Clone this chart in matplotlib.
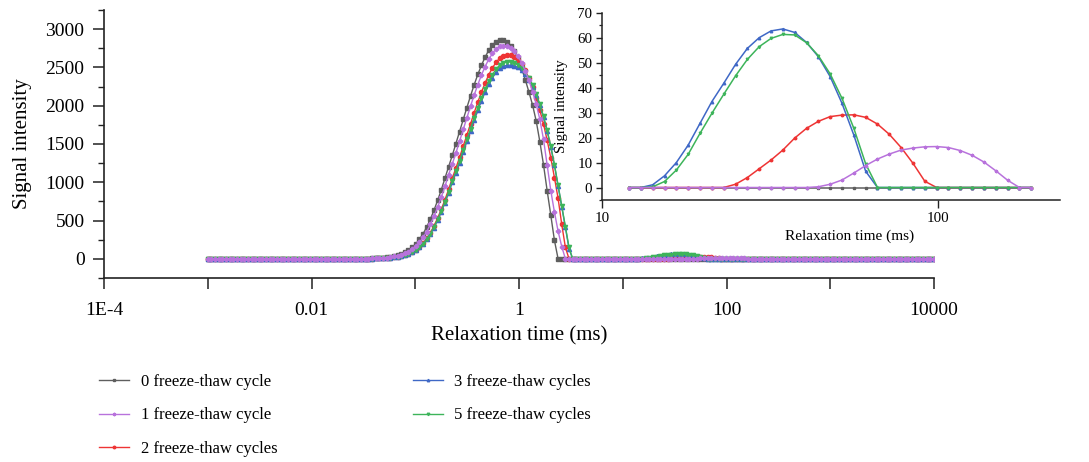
import matplotlib.pyplot as plt
import numpy as np
from matplotlib.ticker import FixedLocator, MultipleLocator, NullLocator

# T2 grid: 200 log-spaced relaxation times from 0.001 ms to 10000 ms
t2 = np.logspace(-3, 4, 200)

# main peak, grid points 40..100
peak_start = 40
peak_0 = [0, 1, 2, 3, 4, 6, 9, 11, 14, 20,
          27, 37, 50, 66, 86, 115, 149, 195, 255, 327,
          416, 519, 636, 765, 903, 1055, 1204, 1350, 1505, 1663,
          1821, 1975, 2127, 2274, 2408, 2529, 2635, 2724, 2792, 2838,
          2864, 2862, 2835, 2785, 2720, 2620, 2490, 2340, 2180, 2010,
          1800, 1530, 1230, 890, 570, 240, 0, 0, 0, 0,
          0]
peak_1 = [0, 0, 1, 2, 3, 5, 7, 10, 13, 17,
          22, 31, 42, 56, 72, 95, 125, 164, 214, 279,
          356, 451, 557, 677, 808, 947, 1100, 1239, 1384, 1537,
          1690, 1844, 1994, 2139, 2275, 2401, 2512, 2607, 2682, 2740,
          2774, 2785, 2780, 2755, 2710, 2645, 2560, 2455, 2330, 2185,
          2020, 1820, 1560, 1230, 890, 610, 360, 160, 0, 0,
          0]
peak_2 = [0, 0, 0, 1, 2, 3, 5, 7, 9, 12,
          16, 21, 29, 40, 53, 69, 91, 120, 157, 205,
          267, 341, 432, 533, 648, 773, 906, 1053, 1186, 1325,
          1471, 1618, 1764, 1908, 2047, 2177, 2297, 2404, 2494, 2566,
          2622, 2654, 2665, 2662, 2640, 2600, 2540, 2460, 2360, 2240,
          2100, 1940, 1760, 1550, 1320, 1060, 790, 450, 150, 0,
          0]
peak_3 = [0, 0, 0, 1, 2, 3, 5, 6, 8, 11,
          15, 20, 28, 38, 51, 66, 86, 114, 149, 195,
          253, 324, 409, 505, 614, 733, 859, 998, 1125, 1256,
          1395, 1534, 1673, 1809, 1941, 2065, 2178, 2279, 2365, 2434,
          2487, 2517, 2527, 2530, 2522, 2500, 2465, 2412, 2340, 2250,
          2138, 2005, 1848, 1668, 1460, 1220, 950, 680, 410, 130,
          0]
peak_5 = [0, 0, 0, 1, 2, 3, 5, 6, 9, 12,
          15, 21, 28, 39, 51, 67, 87, 116, 152, 198,
          257, 329, 417, 514, 625, 746, 874, 1016, 1144, 1278,
          1419, 1561, 1702, 1841, 1975, 2100, 2216, 2319, 2406, 2476,
          2530, 2561, 2571, 2572, 2560, 2535, 2495, 2440, 2365, 2270,
          2155, 2020, 1860, 1680, 1470, 1230, 960, 690, 420, 150,
          0]

# long-T2 bump, grid points 116..150 (shown in the inset)
bump_start = 116
bump_0 = [0] * 35
bump_1 = [0, 0, 0, 0, 0, 0, 0, 0, 0, 0, 0, 0, 0, 0, 0, 0,
          0.3, 1.3, 3, 5.8, 8.8, 11.4, 13.4, 15, 15.8, 16.3,
          16.4, 16, 14.8, 12.9, 10.2, 6.7, 2.9, 0, 0]
bump_2 = [0, 0, 0, 0, 0, 0, 0, 0,
          0, 1.3, 4, 7.5, 11, 15, 19.8, 23.7, 26.5, 28.4,
          29, 29.1, 28.1, 25.4, 21.3, 16, 9.7, 2.5, 0,
          0, 0, 0, 0, 0, 0, 0, 0]
bump_3 = [0, 0, 1.1, 4.7, 10, 17, 25.7, 34.4, 41.7, 49.3,
          55.7, 60, 62.7, 63.5, 62.1, 58.1, 52.4, 44.4, 33.7, 21,
          6.5, 0, 0, 0, 0, 0, 0, 0, 0, 0, 0, 0, 0, 0, 0]
bump_5 = [0, 0, 0.3, 2.4, 7, 13.3, 21.7, 29.7, 37.3, 44.7,
          51.3, 56.4, 59.7, 61.3, 61.1, 58, 52.8, 45.5, 35.7, 23.7,
          9.5, 0, 0, 0, 0, 0, 0, 0, 0, 0, 0, 0, 0, 0, 0]

labels = ['0 freeze-thaw cycle', '1 freeze-thaw cycle', '2 freeze-thaw cycles',
          '3 freeze-thaw cycles', '5 freeze-thaw cycles']
colors = ['#5e5e5e', '#b872dc', '#ee3434', '#3f68c6', '#3db45a']
markers = ['s', 'P', 'o', '^', 'v']
zorders = [2, 6, 3, 4, 5]


def full_series(peak, bump):
    y = np.zeros(len(t2))
    y[peak_start:peak_start + len(peak)] = peak
    y[bump_start:bump_start + len(bump)] = bump
    return y


series = [full_series(p, b) for p, b in zip(
    [peak_0, peak_1, peak_2, peak_3, peak_5],
    [bump_0, bump_1, bump_2, bump_3, bump_5])]

plt.rcParams['font.family'] = 'Liberation Serif'
fig = plt.figure(figsize=(10.89, 4.62), dpi=100)

# main axes
ax = fig.add_axes([104 / 1089, 184 / 462, 830 / 1089, 268 / 462])
handles = []
for y, lab, c, m, z in zip(series, labels, colors, markers, zorders):
    h, = ax.plot(t2, y, color=c, marker=m, markersize=3, linewidth=1.0,
                 label=lab, zorder=z)
    handles.append(h)

ax.set_xscale('log')
ax.set_xlim(1e-4, 1e4)
ax.set_ylim(-250, 3250)
ax.xaxis.set_major_locator(FixedLocator(10.0 ** np.arange(-4, 5)))
ax.xaxis.set_minor_locator(NullLocator())
ax.set_xticklabels(['1E-4', '', '0.01', '', '1', '', '100', '', '10000'])
ax.yaxis.set_major_locator(FixedLocator(np.arange(0, 3001, 500)))
ax.yaxis.set_minor_locator(MultipleLocator(250))
for s in ['top', 'right']:
    ax.spines[s].set_visible(False)
for s in ['left', 'bottom']:
    ax.spines[s].set_linewidth(1.2)
    ax.spines[s].set_color('#222222')
ax.tick_params(axis='both', which='major', direction='out', length=8, width=1.1,
               labelsize=14, pad=6, color='#222222')
ax.tick_params(axis='x', which='major', pad=9)
ax.tick_params(axis='y', which='minor', direction='out', length=4, width=1.0, color='#222222')
ax.set_xlabel('Relaxation time (ms)', fontsize=15)
ax.set_ylabel('Signal intensity', fontsize=15)
ax.xaxis.set_label_coords(0.5, -0.18)
ax.yaxis.set_label_coords(-0.087, 0.5)

# inset
axi = fig.add_axes([602 / 1089, 262 / 462, 458 / 1089, 187.3 / 462])
axi.set_facecolor('none')
sl = slice(bump_start, bump_start + len(bump_0))
for y, c, m, z in zip(series, colors, markers, zorders):
    axi.plot(t2[sl], y[sl], color=c, marker=m, markersize=1.8, linewidth=1.1, zorder=z)
axi.set_xscale('log')
axi.set_xlim(10, 230)
axi.set_ylim(-5, 70)
axi.xaxis.set_major_locator(FixedLocator([10, 100]))
axi.xaxis.set_minor_locator(NullLocator())
axi.set_xticklabels(['10', '100'])
axi.yaxis.set_major_locator(MultipleLocator(10))
axi.yaxis.set_minor_locator(MultipleLocator(5))
for s in ['top', 'right']:
    axi.spines[s].set_visible(False)
for s in ['left', 'bottom']:
    axi.spines[s].set_linewidth(1.1)
    axi.spines[s].set_color('#222222')
axi.tick_params(axis='both', which='major', direction='out', length=4, width=1.0,
                labelsize=10.8, pad=3, color='#222222')
axi.tick_params(axis='x', which='major', length=6)
axi.tick_params(axis='y', which='minor', direction='out', length=2.5, width=0.9, color='#222222')
axi.set_xlabel('Relaxation time (ms)', fontsize=11)
axi.set_ylabel('Signal intensity', fontsize=10.8)
axi.xaxis.set_label_coords(0.541, -0.155)
axi.yaxis.set_label_coords(-0.075, 0.5)

fig.legend(handles, labels, ncol=2, loc='upper left', bbox_to_anchor=(0.085, 0.2045),
           frameon=False, fontsize=12, handlelength=1.8, handletextpad=0.7,
           columnspacing=8.1, labelspacing=1.03, markerscale=0.6, borderaxespad=0)

fig.savefig('out.png', dpi=100)
